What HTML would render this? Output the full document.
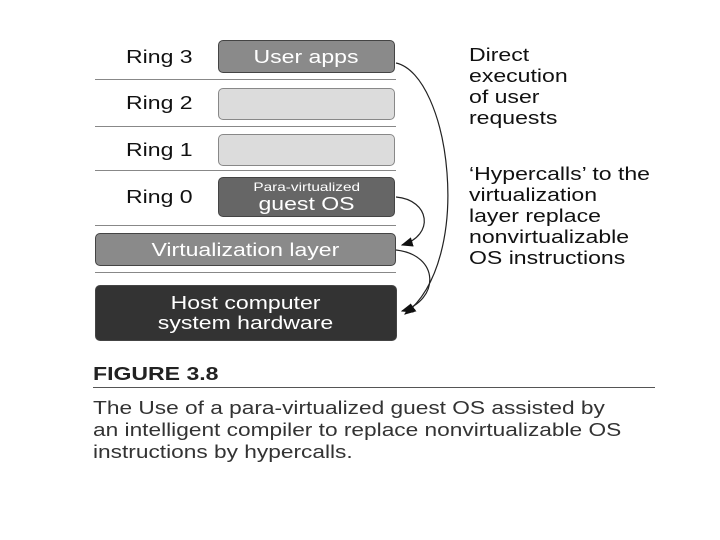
<!DOCTYPE html>
<html><head><style>
body{margin:0;width:720px;height:540px;background:#fff;font-family:"Liberation Sans",sans-serif;position:relative;overflow:hidden}
.a{position:absolute}
.s{display:inline-block;transform:scaleX(1.28);transform-origin:left top;white-space:nowrap}
.c{display:inline-block;transform:scaleX(1.28);transform-origin:center;white-space:nowrap}
.box{position:absolute;border-radius:5px;border:1.5px solid #444;box-sizing:border-box;display:flex;align-items:center;justify-content:center;text-align:center;color:#fff;font-size:18px;line-height:20px}
.ring{position:absolute;left:126px;font-size:18px;color:#111}
.hl{position:absolute;left:95px;width:301px;height:1px;background:#888}
.rt{position:absolute;left:469px;font-size:18px;line-height:21px;color:#111}
.cap{position:absolute;left:93px;font-size:18px;line-height:22px;color:#333}
</style></head><body>
<div class="ring" style="top:47px"><span class="s">Ring 3</span></div>
<div class="ring" style="top:93px"><span class="s">Ring 2</span></div>
<div class="ring" style="top:140px"><span class="s">Ring 1</span></div>
<div class="ring" style="top:187px"><span class="s">Ring 0</span></div>
<div class="hl" style="top:79px"></div>
<div class="hl" style="top:126px"></div>
<div class="hl" style="top:170px"></div>
<div class="hl" style="top:225px"></div>
<div class="hl" style="top:272px"></div>
<div class="box" style="left:218px;top:40px;width:177px;height:33px;background:#8a8a8a"><span class="c">User apps</span></div>
<div class="box" style="left:218px;top:88px;width:177px;height:32px;background:#dcdcdc;border-color:#888"></div>
<div class="box" style="left:218px;top:134px;width:177px;height:32px;background:#dcdcdc;border-color:#888"></div>
<div class="box" style="left:218px;top:177px;width:177px;height:40px;background:#666;flex-direction:column"><span class="c" style="font-size:12px;line-height:14px">Para-virtualized</span><span class="c">guest OS</span></div>
<div class="box" style="left:95px;top:233px;width:301px;height:33px;background:#8a8a8a"><span class="c">Virtualization layer</span></div>
<div class="box" style="left:95px;top:285px;width:302px;height:56px;background:#333;flex-direction:column"><span class="c">Host computer</span><span class="c">system hardware</span></div>
<svg class="a" style="left:0;top:0" width="720" height="540">
<defs><marker id="m" markerWidth="10" markerHeight="8" refX="9" refY="4" orient="auto"><path d="M0,0L10,4L0,8z" fill="#111"/></marker></defs>
<g fill="none" stroke="#222" stroke-width="1.2">
<path d="M396,63 C450,75 475,260 405,314" marker-end="url(#m)"/>
<path d="M396,197 C430,200 435,235 402,245" marker-end="url(#m)"/>
<path d="M396,250 C440,255 440,300 402,311" marker-end="url(#m)"/>
</g></svg>
<div class="rt" style="top:45px"><span class="s">Direct<br>execution<br>of user<br>requests</span></div>
<div class="rt" style="top:164px"><span class="s">‘Hypercalls’ to the<br>virtualization<br>layer replace<br>nonvirtualizable<br>OS instructions</span></div>
<div class="a" style="left:93px;top:364px;font-weight:bold;font-size:18px;color:#222"><span class="s">FIGURE 3.8</span></div>
<div class="a" style="left:93px;top:387px;width:562px;height:1px;background:#555"></div>
<div class="cap" style="top:397px"><span class="s" style="transform:scaleX(1.26)">The Use of a para-virtualized guest OS assisted by<br>an intelligent compiler to replace nonvirtualizable OS<br>instructions by hypercalls.</span></div>
</body></html>
